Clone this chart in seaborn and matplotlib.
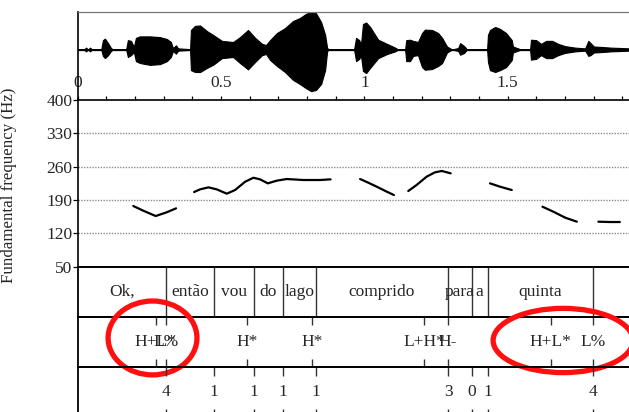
import numpy as np
import pandas as pd
import matplotlib
matplotlib.use("Agg")
import matplotlib.pyplot as plt
from matplotlib.patches import Ellipse
import seaborn as sns

# ---------------- data ----------------
# waveform amplitude envelope (normalised)
wave_t = [0.0, 0.022, 0.029, 0.036, 0.043, 0.050, 0.082, 0.088, 0.095, 0.106, 0.116, 0.123,
          0.169, 0.175, 0.186, 0.196, 0.203, 0.217, 0.252, 0.287, 0.311, 0.325, 0.332, 0.343,
          0.350, 0.392, 0.395, 0.409, 0.427, 0.451, 0.472, 0.503, 0.542, 0.566, 0.594, 0.619,
          0.643, 0.657, 0.671, 0.695, 0.723, 0.751, 0.775, 0.796, 0.814, 0.831, 0.849, 0.863,
          0.870, 0.877, 0.964, 0.971, 0.982, 0.988, 0.995, 1.006, 1.020, 1.048, 1.079, 1.107,
          1.118, 1.142, 1.146, 1.159, 1.170, 1.187, 1.201, 1.211, 1.236, 1.257, 1.271, 1.288,
          1.306, 1.327, 1.334, 1.348, 1.358, 1.428, 1.431, 1.438, 1.456, 1.473, 1.494, 1.514,
          1.518, 1.543, 1.578, 1.581, 1.599, 1.616, 1.634, 1.655, 1.676, 1.700, 1.735, 1.770,
          1.781, 1.789, 1.800, 1.824, 1.859, 1.894, 1.925, 1.950]
wave_upper = [0, 0, 0.05, 0, 0.05, 0, 0, 0.25, 0.29, 0.17, 0.04, 0,
              0, 0.25, 0.23, 0.07, 0.31, 0.35, 0.35, 0.33, 0.28, 0.20, 0.04, 0.11,
              0.03, 0.01, 0.52, 0.63, 0.64, 0.49, 0.39, 0.23, 0.20, 0.33, 0.52, 0.31,
              0.15, 0.12, 0.25, 0.44, 0.57, 0.76, 0.84, 0.95, 1.0, 0.97, 0.73, 0.39,
              0.04, 0, 0, 0.31, 0.25, 0.12, 0.68, 0.72, 0.60, 0.26, 0.15, 0.05,
              0, 0, 0.25, 0.26, 0.23, 0.20, 0.44, 0.53, 0.52, 0.44, 0.31, 0.08,
              0, 0.04, 0.17, 0.09, 0, 0, 0.39, 0.52, 0.60, 0.55, 0.44, 0.25,
              0.08, 0.01, 0, 0.26, 0.25, 0.15, 0.23, 0.23, 0.15, 0.09, 0.05, 0.03,
              0.23, 0.17, 0.08, 0.07, 0.05, 0.04, 0.03, 0.02]
wave_lower = [0, 0, -0.05, 0, -0.05, 0, 0, -0.17, -0.23, -0.15, -0.04, 0,
              0, -0.20, -0.15, -0.07, -0.31, -0.36, -0.41, -0.39, -0.31, -0.20, -0.04, -0.11,
              -0.03, -0.01, -0.55, -0.60, -0.60, -0.49, -0.41, -0.23, -0.20, -0.36, -0.53, -0.33,
              -0.15, -0.12, -0.28, -0.44, -0.60, -0.81, -0.92, -1.03, -1.11, -1.08, -0.92, -0.55,
              -0.04, 0, 0, -0.31, -0.25, -0.15, -0.57, -0.63, -0.49, -0.23, -0.12, -0.05,
              0, 0, -0.31, -0.31, -0.17, -0.15, -0.47, -0.54, -0.52, -0.44, -0.36, -0.08,
              0, -0.04, -0.14, -0.09, 0, 0, -0.33, -0.55, -0.60, -0.55, -0.47, -0.28,
              -0.08, -0.01, 0, -0.27, -0.25, -0.15, -0.23, -0.23, -0.15, -0.09, -0.05, -0.03,
              -0.17, -0.15, -0.08, -0.07, -0.05, -0.04, -0.03, -0.02]

# F0 contour segments (time s, Hz)
f0_seg1_t = [0.194, 0.229, 0.272, 0.310, 0.343]
f0_seg1_f = [177.4, 167.5, 156.4, 164.1, 172.5]
f0_seg2_t = [0.406, 0.427, 0.456, 0.485, 0.520, 0.549, 0.584, 0.613, 0.636, 0.663, 0.694,
             0.729, 0.787, 0.845, 0.882]
f0_seg2_f = [206.8, 212.4, 216.6, 212.4, 203.3, 211.0, 228.4, 236.8, 233.4, 225.0, 230.6,
             234.1, 232.0, 232.0, 233.4]
f0_seg3_t = [0.985, 1.015, 1.043, 1.078, 1.103]
f0_seg3_f = [234.1, 226.0, 218.0, 207.5, 200.5]
f0_seg4_t = [1.153, 1.182, 1.217, 1.246, 1.270, 1.301]
f0_seg4_f = [208.9, 221.5, 239.0, 248.1, 251.0, 246.0]
f0_seg5_t = [1.438, 1.473, 1.514]
f0_seg5_f = [225.0, 218.0, 211.0]
f0_seg6_t = [1.621, 1.659, 1.701, 1.741]
f0_seg6_f = [176.0, 165.5, 152.8, 144.5]
f0_seg7_t = [1.816, 1.857, 1.891]
f0_seg7_f = [144.5, 143.8, 143.8]

f0_ticks = [50, 120, 190, 260, 330, 400]
time_ticks = [0, 0.5, 1, 1.5]
time_tick_labels = ["0", "0.5", "1", "1.5"]

# Tier 1: words (interval tier)
word_bounds = [0.0, 0.307, 0.476, 0.615, 0.716, 0.831, 1.292, 1.374, 1.430, 1.798, 1.95]
words = ["Ok,", "então", "vou", "do", "lago", "comprido", "para", "a", "quinta", ""]

# Tier 2: tones (point tier)
tone_times = [0.272, 0.307, 0.592, 0.816, 1.208, 1.292, 1.650, 1.798]
tone_labels = ["H+L*", "L%", "H*", "H*", "L+H*", "H-", "H+L*", "L%"]

# Tier 3: break indices (point tier)
break_times = [0.307, 0.476, 0.615, 0.716, 0.831, 1.292, 1.374, 1.430, 1.798]
break_labels = ["4", "1", "1", "1", "1", "3", "0", "1", "4"]

# highlighted regions (red ellipses): centre time, centre height (tier units), width s, height
circle_t = [0.261, 1.693]
circle_y = [0.58, 0.53]
circle_w = [0.310, 0.488]
circle_h = [1.46, 1.27]

# ---------------- figure ----------------
sns.set_style("white")
plt.rcParams['font.family'] = ['Liberation Serif', 'DejaVu Serif']

W, H = 629, 412
fig = plt.figure(figsize=(W / 100, H / 100), dpi=100)

X0 = 77.7          # px of t = 0
PPS = 286.7        # px per second
TMAX = 1.95
AW = TMAX * PPS


def px_axes(left, top, width, height, z=0):
    ax = fig.add_axes([left / W, 1 - (top + height) / H, width / W, height / H])
    ax.set_zorder(z)
    return ax


# --- F0 panel ---
ax_f = px_axes(X0, 100, AW, 166.7, z=1)
segs = [(f0_seg1_t, f0_seg1_f), (f0_seg2_t, f0_seg2_f), (f0_seg3_t, f0_seg3_f),
        (f0_seg4_t, f0_seg4_f), (f0_seg5_t, f0_seg5_f), (f0_seg6_t, f0_seg6_f),
        (f0_seg7_t, f0_seg7_f)]
df = pd.concat([pd.DataFrame({"time": t, "f0": f, "seg": i}) for i, (t, f) in enumerate(segs)])
sns.lineplot(data=df, x="time", y="f0", units="seg", estimator=None, sort=False,
             color="black", lw=1.6, ax=ax_f, legend=False)
ax_f.set_xlim(0, TMAX)
ax_f.set_ylim(50, 400)
ax_f.set_yticks(f0_ticks)
ax_f.set_yticklabels([str(v) for v in f0_ticks])
for v in f0_ticks[1:-1]:
    ax_f.axhline(v, color="#8c8c8c", ls=(0, (1, 1)), lw=1.0, zorder=0)
ax_f.xaxis.tick_top()
ax_f.set_xticks(time_ticks)
ax_f.set_xticklabels(time_tick_labels)
ax_f.set_xticks(np.arange(0, TMAX, 0.1), minor=True)
ax_f.tick_params(axis="x", which="both", top=True, bottom=False, direction="out",
                 length=3.2, width=0.9, color="black", labelsize=12.5, pad=3.5)
ax_f.tick_params(axis="y", which="both", left=True, direction="out", length=3.5,
                 width=0.9, color="black", labelsize=12.5, pad=0.5)
ax_f.set_xlabel("")
ax_f.set_ylabel("Fundamental frequency (Hz)", fontsize=12.2)
ax_f.yaxis.set_label_coords((17 - X0) / AW, (266.7 - 185) / 166.7)
for s in ["top", "bottom", "left"]:
    ax_f.spines[s].set_visible(True)
    ax_f.spines[s].set_color("black")
    ax_f.spines[s].set_linewidth(1.2)
ax_f.spines["right"].set_visible(False)
ax_f.patch.set_alpha(0)

# --- waveform ---
ax_w = px_axes(X0, 12, AW, 88, z=2)
ax_w.fill_between(wave_t, wave_lower, wave_upper, color="black", lw=0.8)
ax_w.plot([0, TMAX], [0, 0], color="black", lw=0.9)
ax_w.set_xlim(0, TMAX)
ax_w.set_ylim(1 - 88 / 37.5, 1)
ax_w.set_xticks([])
ax_w.set_yticks([])
ax_w.spines["top"].set_color("#777777")
ax_w.spines["top"].set_linewidth(0.9)
ax_w.spines["left"].set_color("black")
ax_w.spines["left"].set_linewidth(1.2)
ax_w.spines["bottom"].set_visible(False)
ax_w.spines["right"].set_visible(False)
ax_w.patch.set_alpha(0)


def tier_axes(top, height):
    ax = px_axes(X0, top, AW, height, z=1)
    ax.set_xlim(0, TMAX)
    ax.set_ylim(0, 1)
    ax.set_xticks([])
    ax.set_yticks([])
    for s in ["top", "bottom", "left"]:
        ax.spines[s].set_visible(True)
        ax.spines[s].set_color("black")
        ax.spines[s].set_linewidth(1.3)
    ax.spines["right"].set_visible(False)
    ax.patch.set_alpha(0)
    return ax


# --- word tier ---
ax_wd = tier_axes(266.7, 50.0)
ax_wd.vlines(word_bounds[1:-1], 0, 1, color="#333333", lw=1.0)
for a, b, w in zip(word_bounds[:-1], word_bounds[1:], words):
    ax_wd.text((a + b) / 2, 0.5, w, ha="center", va="center", fontsize=12.5)

# --- tone tier ---
ax_tn = tier_axes(316.7, 50.6)
tick = 8 / 50.6
ax_tn.vlines(tone_times, 1 - tick, 1, color="#333333", lw=1.0)
ax_tn.vlines(tone_times, 0, tick, color="#333333", lw=1.0)
for t, lab in zip(tone_times, tone_labels):
    ax_tn.text(t, 0.5, lab, ha="center", va="center", fontsize=12.5)

# --- break tier ---
ax_br = tier_axes(367.3, 50.2)
tick = 9 / 50.2
ax_br.vlines(break_times, 1 - tick, 1, color="#333333", lw=1.0)
ax_br.vlines(break_times, 0, tick, color="#333333", lw=1.0)
for t, lab in zip(break_times, break_labels):
    ax_br.text(t, 0.5, lab, ha="center", va="center", fontsize=12.5)

# --- red highlight ellipses ---
for cx, cy, w, h in zip(circle_t, circle_y, circle_w, circle_h):
    e = Ellipse((cx, cy), w, h, fill=False, edgecolor="#ff1010", lw=3.8,
                clip_on=False, zorder=10)
    ax_tn.add_patch(e)

fig.savefig("out.png", dpi=100)
